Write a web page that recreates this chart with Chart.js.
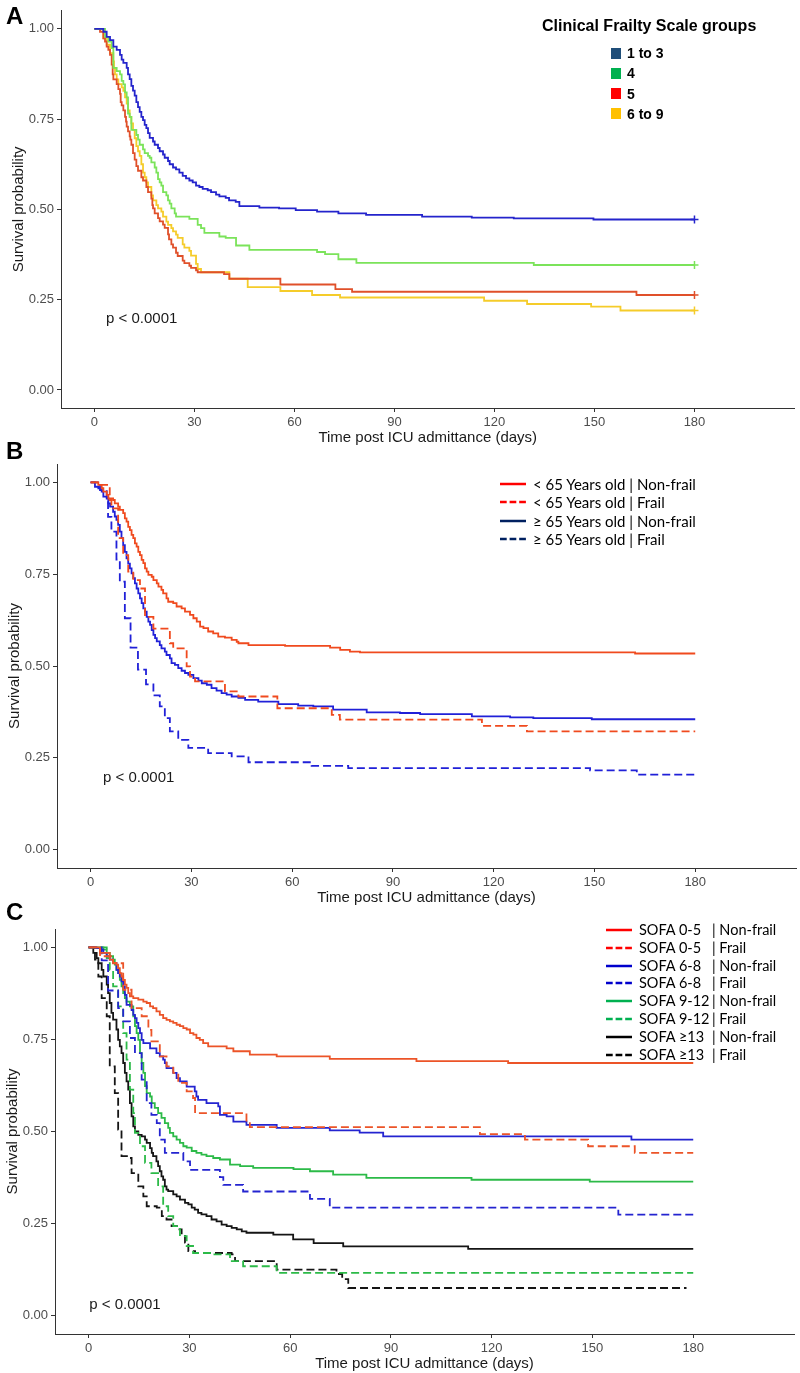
<!DOCTYPE html>
<html>
<head>
<meta charset="utf-8">
<title>Survival by frailty</title>
<script src="https://cdn.jsdelivr.net/npm/chart.js@4.4.1/dist/chart.umd.min.js"></script>
<style>
  html, body { margin: 0; padding: 0; background: #fff; }
  #page { position: relative; width: 800px; height: 1373px; overflow: hidden; background: #fff; }
  canvas { position: absolute; left: 0; }
  .letter { position: absolute; left: 6px; font: bold 24px/24px "Liberation Sans", Arial, sans-serif; color: #000; }
  .legend { position: absolute; color: #000; z-index: 2; }
  .row { position: absolute; left: 0; height: 18px; display: flex; align-items: center; white-space: nowrap; }
  .cfs-title { position: absolute; left: 0; top: 0; font: bold 16px/20px "Liberation Sans", Arial, sans-serif; white-space: nowrap; }
  .cfs-row { font: bold 14px/18px "Liberation Sans", Arial, sans-serif; }
  .cfs-key { display: inline-block; width: 10px; height: 11px; margin-right: 6px; }
  .line-row { font: 15px/18px Lato, "Open Sans", sans-serif; }
  .line-row svg { margin-right: 7px; }
  #legendC .line-row { font-size: 14.5px; }
</style>
</head>
<body>
<div id="page">
  <canvas id="chartA" width="800" height="448" style="top:0px"></canvas>
  <canvas id="chartB" width="800" height="458" style="top:450px"></canvas>
  <canvas id="chartC" width="800" height="464" style="top:910px"></canvas>
  <div class="letter" style="top:4px">A</div>
  <div class="letter" style="top:439px">B</div>
  <div class="letter" style="top:900px">C</div>
  <div id="legendA" class="legend" style="left:542px; top:16px"></div>
  <div id="legendB" class="legend" style="left:500px; top:475px"></div>
  <div id="legendC" class="legend" style="left:606px; top:921px"></div>
</div>
<script>
const xTickValues = [0, 30, 60, 90, 120, 150, 180];
const yTickValues = [0, 0.25, 0.5, 0.75, 1];
const pvalText = 'p < 0.0001';

// Panel A - Clinical Frailty Scale groups, [day, survival]
const cfs1to3 = [[0,1],[2.7,0.992],[3.7,0.978],[4.7,0.969],[5.7,0.951],[6.7,0.942],[7.7,0.928],[8.2,0.915],[8.7,0.906],[9.7,0.892],[10.1,0.874],[10.6,0.861],[11.1,0.842],[11.6,0.829],[12.1,0.815],[12.6,0.797],[13.1,0.783],[13.6,0.770],[14.1,0.756],[14.6,0.747],[15.1,0.734],[15.6,0.725],[16.1,0.711],[16.6,0.698],[17.6,0.688],[18.1,0.679],[19.1,0.670],[19.6,0.661],[20.6,0.652],[21.1,0.643],[22.1,0.634],[22.6,0.625],[23.6,0.616],[24.5,0.611],[25.5,0.602],[26.5,0.593],[27.5,0.586],[28.5,0.580],[29.5,0.575],[30.5,0.566],[31.5,0.562],[32.5,0.557],[34.0,0.553],[35.0,0.548],[36.5,0.541],[37.5,0.536],[39.4,0.532],[40.4,0.525],[42.4,0.521],[43.5,0.509],[49.5,0.505],[55.4,0.503],[60.4,0.498],[66.8,0.494],[73.2,0.489],[81.5,0.485],[98.3,0.480],[113.2,0.477],[125.8,0.475],[149.7,0.472],[180,0.472]];
const cfs4 = [[0,1],[3.2,0.978],[4.2,0.965],[5.2,0.947],[5.7,0.892],[6.7,0.883],[7.7,0.874],[8.2,0.856],[8.7,0.846],[9.2,0.824],[9.7,0.810],[10.1,0.765],[10.6,0.756],[11.1,0.720],[12.6,0.706],[13.1,0.693],[13.6,0.679],[14.6,0.666],[15.1,0.656],[16.1,0.648],[16.6,0.643],[17.1,0.630],[18.1,0.616],[18.6,0.602],[19.1,0.584],[19.6,0.575],[20.1,0.566],[20.6,0.548],[21.6,0.539],[22.1,0.525],[22.6,0.516],[23.1,0.503],[24.1,0.489],[24.5,0.480],[28.5,0.474],[31.0,0.457],[32.0,0.448],[33.0,0.435],[37.5,0.425],[39.4,0.421],[42.5,0.400],[46.5,0.388],[66.8,0.382],[69.2,0.376],[73.2,0.362],[78.6,0.352],[131.8,0.346],[180,0.346]];
const cfs5 = [[0,1],[1.7,0.992],[2.7,0.974],[3.2,0.965],[3.7,0.951],[4.2,0.942],[4.7,0.928],[5.2,0.901],[5.5,0.874],[5.7,0.860],[6.7,0.847],[7.2,0.833],[7.7,0.820],[7.9,0.797],[8.2,0.788],[8.7,0.774],[9.2,0.756],[9.5,0.743],[9.7,0.729],[10.1,0.716],[10.6,0.702],[10.8,0.693],[11.1,0.679],[11.6,0.656],[12.1,0.638],[12.6,0.620],[13.1,0.607],[14.1,0.589],[14.6,0.580],[15.6,0.562],[16.1,0.548],[17.1,0.530],[17.4,0.512],[17.6,0.503],[18.1,0.489],[19.1,0.476],[19.6,0.467],[20.6,0.458],[21.1,0.449],[22.1,0.431],[22.4,0.417],[23.1,0.403],[23.6,0.394],[24.5,0.380],[25.0,0.371],[26.5,0.358],[27.0,0.351],[28.5,0.344],[29.0,0.338],[30.5,0.331],[31.0,0.326],[38.9,0.321],[40.5,0.308],[55.8,0.292],[72.3,0.279],[77.3,0.272],[162.6,0.263],[180,0.263]];
const cfs6to9 = [[0,1],[2.7,0.974],[3.7,0.956],[4.7,0.933],[5.7,0.910],[5.9,0.892],[6.2,0.874],[6.7,0.860],[7.2,0.847],[8.2,0.838],[8.7,0.828],[9.2,0.810],[9.7,0.793],[10.1,0.774],[10.6,0.756],[11.1,0.738],[11.6,0.720],[12.1,0.697],[12.6,0.675],[13.1,0.661],[13.6,0.648],[14.1,0.625],[14.6,0.602],[15.1,0.589],[15.6,0.575],[16.1,0.562],[17.1,0.539],[17.6,0.525],[18.6,0.512],[19.1,0.503],[20.1,0.494],[20.6,0.480],[21.6,0.466],[22.1,0.457],[23.1,0.448],[23.6,0.439],[24.5,0.430],[25.0,0.421],[26.5,0.403],[27.0,0.394],[28.5,0.385],[29.0,0.372],[30.5,0.349],[31.0,0.335],[32.0,0.326],[40.5,0.308],[46.0,0.285],[55.8,0.274],[65.3,0.263],[73.7,0.256],[116.9,0.247],[129.8,0.238],[149.0,0.231],[157.8,0.220],[180,0.220]];
const cfsLabels = ['1 to 3', '4', '5', '6 to 9'];

// Panel B - age group x frailty
const under65NonFrail = [[0,1],[2.3,0.993],[3.3,0.984],[3.8,0.975],[4.8,0.966],[5.3,0.956],[6.7,0.952],[7.2,0.943],[8.2,0.934],[8.7,0.925],[9.7,0.916],[10.2,0.902],[10.7,0.893],[11.2,0.879],[11.7,0.870],[12.2,0.857],[12.7,0.848],[13.2,0.834],[13.7,0.825],[14.2,0.811],[14.7,0.802],[15.2,0.789],[15.7,0.780],[16.2,0.766],[16.7,0.757],[17.2,0.748],[18.2,0.743],[18.7,0.734],[19.7,0.725],[20.2,0.716],[21.1,0.707],[21.6,0.698],[22.6,0.684],[23.1,0.675],[24.6,0.671],[25.6,0.662],[27.1,0.657],[28.1,0.648],[29.6,0.639],[30.6,0.630],[31.6,0.621],[32.6,0.607],[33.6,0.603],[35.0,0.594],[36.5,0.589],[38.0,0.580],[40.0,0.577],[42.0,0.571],[43.5,0.566],[44.0,0.562],[47.0,0.557],[57.9,0.555],[71.3,0.550],[74.3,0.544],[77.2,0.539],[80.2,0.537],[162.1,0.534],[180,0.534]];
const under65Frail = [[0,1],[2.8,0.993],[5.7,0.952],[6.2,0.929],[8.2,0.848],[9.7,0.802],[11.2,0.757],[12.7,0.734],[14.7,0.711],[16.2,0.634],[18.7,0.602],[23.6,0.562],[24.6,0.548],[28.6,0.499],[29.6,0.471],[31.1,0.458],[40.0,0.431],[44.0,0.417],[55.6,0.385],[71.8,0.367],[74.2,0.354],[116.5,0.337],[129.9,0.322],[180,0.322]];
const over65NonFrail = [[0,1],[1.3,0.988],[2.3,0.984],[3.3,0.975],[3.8,0.961],[4.8,0.956],[5.3,0.943],[5.8,0.934],[6.7,0.920],[7.2,0.907],[7.7,0.898],[8.2,0.884],[8.7,0.866],[9.2,0.848],[9.7,0.829],[10.2,0.811],[10.7,0.793],[11.2,0.779],[11.7,0.766],[12.2,0.752],[12.7,0.739],[13.2,0.725],[13.7,0.711],[14.2,0.698],[14.7,0.684],[15.2,0.671],[15.7,0.657],[16.2,0.648],[16.7,0.634],[17.2,0.621],[17.7,0.612],[18.2,0.598],[18.7,0.585],[19.2,0.576],[19.7,0.567],[20.6,0.557],[21.1,0.548],[22.1,0.539],[22.6,0.530],[23.6,0.521],[24.1,0.508],[25.1,0.503],[26.1,0.494],[27.1,0.487],[28.1,0.481],[29.1,0.476],[30.6,0.467],[32.1,0.460],[33.1,0.453],[34.6,0.449],[36.0,0.440],[37.5,0.433],[39.0,0.426],[40.5,0.422],[42.0,0.417],[44.0,0.413],[46.0,0.408],[49.9,0.403],[55.9,0.396],[61.8,0.392],[66.3,0.390],[72.2,0.381],[82.2,0.374],[92.1,0.372],[98.1,0.369],[113.5,0.363],[124.9,0.360],[131.8,0.358],[149.2,0.355],[180,0.355]];
const over65Frail = [[0,1],[2.8,0.979],[4.8,0.948],[5.2,0.906],[6.2,0.866],[7.7,0.790],[8.7,0.730],[10.2,0.630],[11.9,0.550],[14.1,0.490],[16.5,0.450],[18.7,0.420],[20.6,0.390],[22.1,0.358],[23.6,0.322],[26.1,0.299],[29.1,0.277],[35.0,0.263],[42.0,0.254],[47.0,0.238],[65.8,0.228],[76.7,0.222],[148.7,0.216],[162.6,0.204],[180,0.204]];
const ageLabels = ['< 65 Years old | Non-frail', '< 65 Years old | Frail', '\u2265 65 Years old | Non-frail', '\u2265 65 Years old | Frail'];

// Panel C - SOFA group x frailty
const sofa05NonFrail = [[0,1],[3.4,0.985],[6.3,0.967],[7.3,0.958],[8.3,0.953],[8.8,0.944],[9.3,0.930],[9.8,0.921],[10.3,0.912],[10.8,0.899],[11.3,0.890],[11.8,0.876],[12.3,0.867],[13.3,0.862],[14.8,0.858],[16.3,0.853],[17.3,0.849],[18.3,0.840],[19.2,0.835],[20.2,0.826],[21.2,0.817],[22.2,0.808],[23.2,0.803],[24.2,0.799],[25.2,0.795],[26.2,0.790],[27.2,0.786],[28.2,0.781],[29.2,0.777],[30.2,0.767],[31.2,0.763],[32.1,0.754],[33.1,0.749],[34.1,0.740],[35.6,0.731],[41.1,0.726],[43.1,0.718],[48.0,0.709],[56.0,0.704],[71.8,0.697],[97.6,0.691],[124.9,0.686],[180,0.686]];
const sofa05Frail = [[0,1],[3.4,0.976],[7.3,0.957],[10.3,0.885],[12.8,0.835],[15.8,0.813],[17.8,0.776],[18.7,0.745],[21.2,0.704],[23.2,0.677],[25.2,0.659],[26.7,0.632],[29.2,0.609],[31.1,0.591],[31.7,0.550],[47.0,0.523],[48.0,0.512],[116.5,0.493],[129.9,0.478],[148.7,0.460],[162.6,0.442],[180,0.442]];
const sofa68NonFrail = [[0,1],[2.4,0.998],[3.4,0.994],[4.4,0.985],[5.4,0.976],[6.3,0.967],[7.3,0.958],[8.3,0.939],[8.8,0.930],[9.3,0.921],[9.8,0.908],[10.3,0.894],[10.8,0.871],[11.3,0.844],[12.8,0.830],[13.3,0.817],[13.8,0.808],[14.3,0.795],[14.8,0.781],[15.3,0.767],[15.8,0.749],[16.3,0.740],[18.3,0.726],[20.2,0.713],[21.2,0.704],[22.2,0.695],[22.7,0.686],[23.2,0.672],[25.2,0.659],[26.2,0.645],[27.2,0.636],[29.2,0.622],[31.6,0.609],[32.1,0.595],[32.6,0.586],[35.1,0.577],[38.6,0.568],[39.1,0.545],[41.1,0.541],[43.1,0.527],[47.0,0.518],[56.0,0.510],[71.8,0.503],[80.7,0.497],[87.7,0.487],[161.6,0.478],[180,0.478]];
const sofa68Frail = [[0,1],[3.9,0.965],[5.8,0.883],[8.8,0.835],[10.3,0.799],[12.3,0.754],[13.8,0.713],[15.8,0.641],[17.3,0.577],[18.7,0.545],[20.3,0.523],[21.2,0.478],[22.7,0.442],[28.2,0.419],[30.2,0.396],[39.1,0.376],[40.1,0.355],[46.0,0.337],[65.9,0.317],[71.8,0.293],[157.7,0.274],[180,0.274]];
const sofa912NonFrail = [[0,1],[4.4,0.994],[5.4,0.985],[6.3,0.976],[7.3,0.967],[7.8,0.953],[8.3,0.939],[8.8,0.930],[9.3,0.912],[9.8,0.894],[10.3,0.876],[10.8,0.862],[11.3,0.853],[12.3,0.840],[13.3,0.813],[13.8,0.786],[14.3,0.767],[14.8,0.749],[15.3,0.713],[15.8,0.686],[16.3,0.659],[16.8,0.623],[17.3,0.604],[18.3,0.595],[18.8,0.577],[19.7,0.564],[20.7,0.550],[21.7,0.537],[22.7,0.523],[23.7,0.510],[24.2,0.496],[25.2,0.487],[26.2,0.478],[27.2,0.469],[28.2,0.460],[29.2,0.456],[30.7,0.447],[32.1,0.442],[33.6,0.437],[35.1,0.433],[37.1,0.428],[39.1,0.424],[42.1,0.410],[45.1,0.406],[49.0,0.401],[61.0,0.398],[65.9,0.392],[72.8,0.383],[82.7,0.374],[114.0,0.369],[149.2,0.364],[180,0.364]];
const sofa912Frail = [[0,1],[5.4,0.971],[6.3,0.939],[7.3,0.894],[8.8,0.840],[10.3,0.767],[11.3,0.695],[12.3,0.614],[13.3,0.550],[13.8,0.496],[15.3,0.460],[16.8,0.415],[18.7,0.387],[20.7,0.351],[22.2,0.297],[23.7,0.270],[25.2,0.243],[27.2,0.216],[29.2,0.189],[31.1,0.170],[37.1,0.166],[42.1,0.148],[46.0,0.134],[56.0,0.116],[180,0.116]];
const sofa13NonFrail = [[0,1],[1.4,0.985],[2.4,0.971],[2.9,0.957],[3.9,0.939],[4.4,0.921],[5.4,0.899],[5.8,0.876],[6.3,0.849],[6.8,0.822],[7.3,0.804],[8.3,0.777],[8.8,0.749],[9.3,0.731],[9.8,0.713],[10.3,0.686],[10.8,0.659],[11.3,0.636],[11.8,0.614],[12.3,0.577],[12.8,0.541],[13.3,0.514],[13.8,0.500],[14.8,0.491],[15.8,0.487],[16.8,0.478],[17.3,0.469],[18.3,0.455],[18.8,0.442],[19.2,0.433],[20.2,0.419],[20.7,0.406],[21.2,0.392],[21.7,0.378],[22.2,0.369],[22.7,0.351],[23.2,0.342],[23.7,0.338],[25.2,0.329],[26.2,0.324],[27.2,0.315],[28.7,0.306],[29.7,0.302],[30.7,0.293],[31.6,0.288],[32.6,0.279],[33.6,0.275],[35.1,0.270],[36.6,0.261],[38.1,0.256],[39.6,0.247],[41.1,0.243],[42.6,0.238],[44.1,0.234],[45.6,0.229],[47.0,0.225],[55.0,0.220],[60.9,0.207],[67.0,0.197],[75.8,0.188],[113.0,0.181],[180,0.181]];
const sofa13Frail = [[0,1],[1.9,0.967],[2.9,0.921],[3.9,0.862],[5.4,0.813],[6.3,0.677],[7.8,0.604],[8.8,0.505],[9.8,0.433],[11.8,0.428],[12.8,0.387],[14.8,0.351],[16.3,0.324],[17.3,0.297],[20.3,0.293],[21.8,0.270],[23.2,0.261],[24.7,0.243],[26.7,0.234],[27.7,0.220],[28.7,0.198],[29.7,0.175],[31.7,0.170],[42.6,0.166],[43.6,0.148],[56.0,0.125],[73.8,0.113],[75.5,0.099],[77.3,0.075],[178,0.075]];
const sofaNames = ['SOFA 0-5', 'SOFA 0-5', 'SOFA 6-8', 'SOFA 6-8', 'SOFA 9-12', 'SOFA 9-12', 'SOFA \u226513', 'SOFA \u226513'];
const frailNames = ['| Non-frail', '| Frail', '| Non-frail', '| Frail', '| Non-frail', '| Frail', '| Non-frail', '| Frail'];

const sansFont = '"Liberation Sans", Arial, sans-serif';

const pvalPlugin = {
  id: 'pval',
  afterDatasetsDraw(chart, args, opts) {
    const { ctx, scales } = chart;
    ctx.save();
    ctx.font = '15px ' + sansFont;
    ctx.fillStyle = '#1a1a1a';
    ctx.textAlign = 'left';
    ctx.textBaseline = 'middle';
    ctx.fillText(pvalText, scales.x.getPixelForValue(opts.x), scales.y.getPixelForValue(opts.y));
    ctx.restore();
  }
};

function makePanel(canvasId, series, cfg) {
  const datasets = series.map(s => ({
    data: s.points.map(p => ({ x: p[0], y: p[1] })),
    borderColor: s.color,
    borderWidth: 1.8,
    borderDash: s.dashed ? [8, 4] : [],
    stepped: true,
    fill: false,
    pointStyle: 'cross',
    pointRadius: ctx => (cfg.censor && ctx.dataIndex === s.points.length - 1) ? 4 : 0,
    pointBorderColor: s.color,
    pointBorderWidth: 1.5
  }));

  return new Chart(document.getElementById(canvasId), {
    type: 'line',
    data: { datasets },
    plugins: [pvalPlugin],
    options: {
      responsive: false,
      animation: false,
      events: [],
      layout: { padding: { top: cfg.padTop, right: cfg.padRight, left: 0, bottom: 0 } },
      plugins: {
        legend: { display: false },
        tooltip: { enabled: false },
        pval: cfg.pval
      },
      scales: {
        x: {
          type: 'linear',
          min: -10,
          max: 210,
          afterBuildTicks: scale => { scale.ticks = xTickValues.map(v => ({ value: v })); },
          afterFit: scale => { scale.height = 40; },
          ticks: { color: '#4D4D4D', font: { family: sansFont, size: 13 }, padding: 3, maxRotation: 0, autoSkip: false },
          grid: { display: true, drawOnChartArea: false, drawTicks: true, tickLength: 4, color: '#333' },
          border: { display: true, color: '#333', width: 1 },
          title: { display: true, text: 'Time post ICU admittance (days)', color: '#1a1a1a', font: { family: sansFont, size: 15 }, padding: { top: 0, bottom: 1 } }
        },
        y: {
          type: 'linear',
          min: -0.05,
          max: 1.05,
          afterBuildTicks: scale => { scale.ticks = yTickValues.map(v => ({ value: v })); },
          afterFit: scale => { scale.width = cfg.yWidth; },
          ticks: { color: '#4D4D4D', font: { family: sansFont, size: 13 }, padding: 3, callback: v => v.toFixed(2) },
          grid: { display: true, drawOnChartArea: false, drawTicks: true, tickLength: 4, color: '#333' },
          border: { display: true, color: '#333', width: 1 },
          title: { display: true, text: 'Survival probability', color: '#1a1a1a', font: { family: sansFont, size: 15 }, padding: { top: cfg.yTitlePad, bottom: 0 } }
        }
      }
    }
  });
}

makePanel('chartA', [
  { points: cfs1to3, color: '#2424CC' },
  { points: cfs4, color: '#7BE35A' },
  { points: cfs5, color: '#E0502A' },
  { points: cfs6to9, color: '#F5CC2A' }
], { padTop: 4, padRight: 1, yWidth: 61, yTitlePad: 10, censor: true, pval: { x: 3.5, y: 0.196 } });

makePanel('chartB', [
  { points: under65NonFrail, color: '#F04A1E' },
  { points: under65Frail, color: '#F04A1E', dashed: true },
  { points: over65NonFrail, color: '#2020D8' },
  { points: over65Frail, color: '#2020D8', dashed: true }
], { padTop: 14, padRight: 4, yWidth: 57, yTitlePad: 6, censor: false, pval: { x: 3.7, y: 0.196 } });

makePanel('chartC', [
  { points: sofa05NonFrail, color: '#EC5428' },
  { points: sofa05Frail, color: '#EC5428', dashed: true },
  { points: sofa68NonFrail, color: '#2424D0' },
  { points: sofa68Frail, color: '#2424D0', dashed: true },
  { points: sofa912NonFrail, color: '#2CBA48' },
  { points: sofa912Frail, color: '#2CBA48', dashed: true },
  { points: sofa13NonFrail, color: '#151515' },
  { points: sofa13Frail, color: '#151515', dashed: true }
], { padTop: 19, padRight: 6, yWidth: 55, yTitlePad: 4, censor: false, pval: { x: 0.2, y: 0.03 } });

// Legends (drawn as HTML text)
function lineSample(color, dashed) {
  return '<svg width="26" height="4"><line x1="0" y1="2" x2="26" y2="2" stroke="' + color +
    '" stroke-width="2.5"' + (dashed ? ' stroke-dasharray="6.7 2.9"' : '') + '/></svg>';
}

const legendA = document.getElementById('legendA');
let htmlA = '<div class="cfs-title">Clinical Frailty Scale groups</div>';
const cfsKeyColors = ['#1F4E79', '#00B050', '#FF0000', '#FFC000'];
cfsLabels.forEach((label, i) => {
  htmlA += '<div class="row cfs-row" style="left:69px; top:' + (28 + i * 20.3) + 'px">' +
    '<span class="cfs-key" style="background:' + cfsKeyColors[i] + '"></span>' + label + '</div>';
});
legendA.innerHTML = htmlA;

const legendB = document.getElementById('legendB');
const ageKeyColors = ['#FF0000', '#FF0000', '#002060', '#002060'];
let htmlB = '';
ageLabels.forEach((label, i) => {
  htmlB += '<div class="row line-row" style="top:' + (i * 18.3) + 'px">' +
    lineSample(ageKeyColors[i], i % 2 === 1) + '<span>' + label + '</span></div>';
});
legendB.innerHTML = htmlB;

const legendC = document.getElementById('legendC');
const sofaKeyColors = ['#FF0000', '#FF0000', '#0000CC', '#0000CC', '#00B050', '#00B050', '#000000', '#000000'];
let htmlC = '';
sofaNames.forEach((name, i) => {
  htmlC += '<div class="row line-row" style="top:' + (i * 17.8) + 'px">' +
    lineSample(sofaKeyColors[i], i % 2 === 1) +
    '<span style="display:inline-block; width:73px">' + name + '</span><span>' + frailNames[i] + '</span></div>';
});
legendC.innerHTML = htmlC;
</script>
</body>
</html>
